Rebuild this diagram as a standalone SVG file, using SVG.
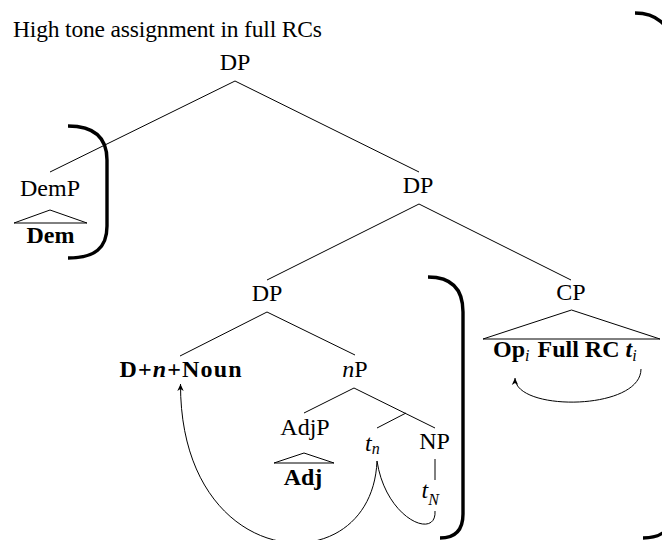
<svg xmlns="http://www.w3.org/2000/svg" width="662" height="540" viewBox="0 0 662 540">
  <style>
    text { font-family: "Liberation Serif", "Times New Roman", serif; fill: #000; }
    .lbl { font-size: 24px; text-anchor: middle; }
    .title { font-size: 23.5px; }
    .b { font-weight: bold; }
    .it { font-style: italic; }
    .sub { font-size: 16px; font-style: italic; font-weight: normal; }
    .edge { stroke: #000; stroke-width: 1; fill: none; }
    .tri { stroke: #000; stroke-width: 1; fill: none; stroke-linejoin: miter; }
    .brace { stroke: #000; stroke-width: 3.4; fill: none; }
    .move { stroke: #000; stroke-width: 1; fill: none; }
  </style>
  <defs>
    <marker id="tip" viewBox="-7 -4 8 8" refX="0" refY="0" markerWidth="8" markerHeight="8" markerUnits="userSpaceOnUse" orient="auto">
      <path d="M0,0 L-7,-3.2 L-5,0 L-7,3.2 Z" fill="#000"/>
    </marker>
  </defs>

  <rect width="662" height="540" fill="#fff"/>

  <text class="title" x="13" y="37" textLength="309">High tone assignment in full RCs</text>

  <!-- tree branches -->
  <g id="connectors">
    <line class="edge" x1="235" y1="81" x2="50" y2="172"/>
    <line class="edge" x1="235" y1="81" x2="419" y2="172"/>
    <line class="edge" x1="419" y1="204" x2="267" y2="280"/>
    <line class="edge" x1="419" y1="204" x2="571" y2="280"/>
    <line class="edge" x1="267" y1="312" x2="180" y2="356"/>
    <line class="edge" x1="267" y1="312" x2="355" y2="355"/>
    <line class="edge" x1="354" y1="388" x2="304" y2="413"/>
    <line class="edge" x1="354" y1="388" x2="435" y2="428"/>
    <line class="edge" x1="406" y1="413" x2="377" y2="428"/>
    <line class="edge" x1="435" y1="459" x2="435" y2="480"/>
    <!-- movement arrows -->
    <path class="move" d="M377,461 C372,585 180,575 180.5,384" marker-end="url(#tip)"/>
    <path class="move" d="M377,461 C386,520 437,540 435,511"/>
    <path class="move" d="M641,369 C641,411 515,412 515,378" marker-end="url(#tip)"/>
  </g>

  <g id="dp-top"><text class="lbl" x="235" y="70">DP</text></g>

  <g id="demp">
    <text class="lbl" x="50" y="196">DemP</text>
    <polygon class="tri" points="50,210 14,223 87,223"/>
    <text class="lbl b" x="50.5" y="243">Dem</text>
  </g>

  <g id="dp-mid"><text class="lbl" x="418" y="193">DP</text></g>
  <g id="dp-low"><text class="lbl" x="267" y="301">DP</text></g>

  <g id="cp">
    <text class="lbl" x="571" y="300">CP</text>
    <polygon class="tri" points="571.5,310 483,339 660,339"/>
    <text x="493" y="357" font-size="24"><tspan class="b">Op</tspan><tspan class="sub" dy="4">i</tspan><tspan class="b" dy="-4" dx="2"> Full RC </tspan><tspan class="b it">t</tspan><tspan class="sub" dy="4">i</tspan></text>
  </g>

  <g id="head">
    <text class="lbl b" x="180.5" y="377" textLength="122">D+<tspan class="it">n</tspan>+Noun</text>
  </g>

  <g id="np-small">
    <text class="lbl" x="355" y="377"><tspan class="it">n</tspan>P</text>
  </g>

  <g id="adjp">
    <text class="lbl" x="305" y="435">AdjP</text>
    <polygon class="tri" points="304,453 274,463 334,463"/>
    <text class="lbl b" x="303" y="485">Adj</text>
  </g>

  <g id="trace-n">
    <text x="365" y="451" font-size="24"><tspan class="it">t</tspan><tspan class="sub" dy="3">n</tspan></text>
  </g>

  <g id="np">
    <text class="lbl" x="434.5" y="449">NP</text>
  </g>

  <g id="trace-N">
    <text x="421.5" y="498" font-size="24"><tspan class="it">t</tspan><tspan class="sub" dy="7">N</tspan></text>
  </g>

  <!-- brackets -->
  <g id="brackets">
    <path class="brace" d="M68,126 C95,126 107,138 107,160 L107,226 C107,248 95,258 68,258"/>
    <path class="brace" d="M428,277 C453,277 463,290 463,312 L463,514 C463,530 455,538 440,538"/>
    <path class="brace" d="M635,13 C655,13 672,24 672,50 L672,510 C672,530 662,538 643,538"/>
  </g>
</svg>
